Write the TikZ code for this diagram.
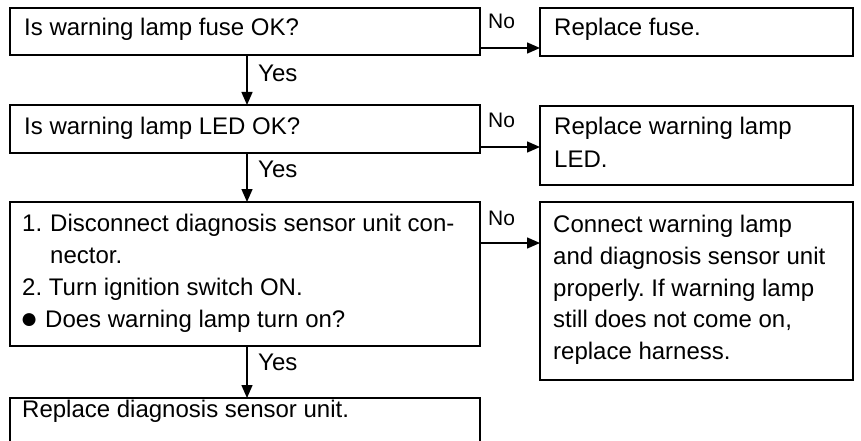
\documentclass[tikz,border=0pt]{standalone}
\usepackage{fontspec}
\setmainfont{Liberation Sans}
\usetikzlibrary{arrows.meta}
\frenchspacing
\begin{document}
\begin{tikzpicture}[x=1pt,y=-1pt,
  box/.style={draw, line width=1.6pt, rectangle, inner sep=0pt, outer sep=0pt},
  txt/.style={anchor=base west, inner sep=0pt, font=\fontsize{24}{32}\selectfont},
  lbl/.style={anchor=base west, inner sep=0pt, font=\fontsize{21}{24}\selectfont},
  arr/.style={line width=1.4pt, -{Triangle[length=13pt,width=11pt]}}]
\clip (0,0) rectangle (861,441);
\fill[white] (0,0) rectangle (861,441);
% left column boxes
\node[box, minimum width=470pt, minimum height=47pt] (b1) at (245,31.5) {};
\node[box, minimum width=470pt, minimum height=48pt] (b2) at (245,129) {};
\node[box, minimum width=470pt, minimum height=144pt] (b3) at (245,274) {};
\node[box, minimum width=470pt, minimum height=80pt] (b4) at (245,438) {};
% right column boxes
\node[box, minimum width=313pt, minimum height=48pt] (r1) at (696.5,32) {};
\node[box, minimum width=313pt, minimum height=79pt] (r2) at (696.5,145.5) {};
\node[box, minimum width=313pt, minimum height=178pt] (r3) at (696.5,291) {};
% texts
\node[txt] (t1) at (24,36) {Is warning lamp fuse OK?};
\node[txt] (t2) at (24,134) {Is warning lamp LED OK?};
\node[txt] (t3a) at (22,231) {1.};
\node[txt] (t3b) at (50,231) {Disconnect diagnosis sensor unit con-};
\node[txt] (t3c) at (50,263) {nector.};
\node[txt] (t3d) at (22,295) {2. Turn ignition switch ON.};
\node[txt] (t3e) at (20,328) {\fontsize{30}{32}\selectfont ●};
\node[txt] (t3f) at (45,327) {Does warning lamp turn on?};
\node[txt] (t4) at (22,417) {Replace diagnosis sensor unit.};
\node[txt] (s1) at (554,36) {Replace fuse.};
\node[txt] (s2a) at (554,135) {Replace warning lamp};
\node[txt] (s2b) at (554,167) {LED.};
\node[txt] (s3a) at (553,232) {Connect warning lamp};
\node[txt] (s3b) at (553,264) {and diagnosis sensor unit};
\node[txt] (s3c) at (553,296) {properly. If warning lamp};
\node[txt] (s3d) at (553,327) {still does not come on,};
\node[txt] (s3e) at (553,359) {replace harness.};
% Yes arrows
\coordinate (ax) at (247,0);
\draw[arr] (b1.south -| ax) -- (b2.north -| ax);
\draw[arr] (b2.south -| ax) -- (b3.north -| ax);
\draw[arr] (b3.south -| ax) -- (b4.north -| ax);
\node[txt] (y1) at (258,82) {Yes};
\node[txt] (y2) at (258,177) {Yes};
\node[txt] (y3) at (258,370) {Yes};
% No arrows
\coordinate (n1) at (0,48);
\coordinate (n2) at (0,147);
\coordinate (n3) at (0,243);
\draw[arr] (b1.east |- n1) -- (r1.west |- n1);
\draw[arr] (b2.east |- n2) -- (r2.west |- n2);
\draw[arr] (b3.east |- n3) -- (r3.west |- n3);
\node[lbl] (no1) at (488,29) {No};
\node[lbl] (no2) at (488,128) {No};
\node[lbl] (no3) at (488,225) {No};
\end{tikzpicture}
\end{document}
